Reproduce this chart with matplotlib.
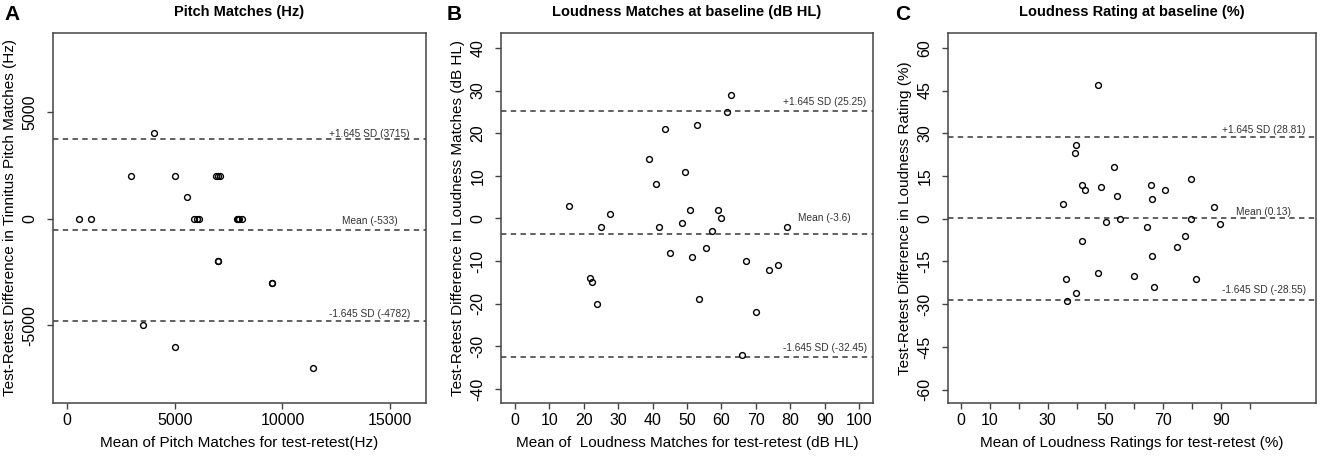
import matplotlib.pyplot as plt
import numpy as np

plt.rcParams['font.family'] = ['Liberation Sans', 'DejaVu Sans']
plt.rcParams['axes.unicode_minus'] = False

# ---- Panel A: pitch matches (Hz)
pitch_mean = [558, 1085, 2944, 4029, 3502, 5005, 5005, 5548, 5900, 6010, 6100,
              6911, 7020, 7097, 6989, 6989, 7870, 7950, 8000, 8100, 9500, 9500, 11405]
pitch_diff = [0, 0, 2000, 4000, -5000, 2000, -6000, 1000, 0, 0, 0,
              2000, 2000, 2000, -2000, -2000, 0, 0, 0, 0, -3000, -3000, -7000]
pitch_lines = [3715, -533, -4782]
pitch_texts = ['+1.645 SD (3715)', 'Mean (-533)', '-1.645 SD (-4782)']

# ---- Panel B: loudness matches (dB HL)
lm_mean = [15.6, 27.5, 25, 21.9, 22.5, 24, 38.9, 41, 43.6, 41.9, 45, 48.5, 49.5, 50.9,
           51.5, 53, 53.4, 55.5, 57.4, 59, 60, 61.5, 62.7, 66, 67.1, 69.9, 73.9, 76.5, 79]
lm_diff = [3, 1, -2, -14, -15, -20, 14, 8, 21, -2, -8, -1, 11, 2,
           -9, 22, -19, -7, -3, 2, 0, 25, 29, -32, -10, -22, -12, -11, -2]
lm_lines = [25.25, -3.6, -32.45]
lm_texts = ['+1.645 SD (25.25)', 'Mean (-3.6)', '-1.645 SD (-32.45)']

# ---- Panel C: loudness rating (%)
lr_mean = [35.4, 36.4, 36.5, 39.4, 39.9, 39.9, 41.7, 41.8, 42.8, 47.3, 47.5, 48.4, 50.3,
           52.8, 53.9, 54.9, 59.9, 64.3, 65.8, 66.2, 66.2, 66.8, 70.8, 74.9, 77.7, 79.7,
           79.7, 81.3, 87.7, 89.7]
lr_diff = [5, -21, -29, 23, 26, -26, 12, -8, 10, -19, 47, 11, -1,
           18, 8, 0, -20, -3, 12, 7, -13, -24, 10, -10, -6, 14,
           0, -21, 4, -2]
lr_lines = [28.81, 0.13, -28.55]
lr_texts = ['+1.645 SD (28.81)', 'Mean (0.13)', '-1.645 SD (-28.55)']

W, H = 1325, 457
fig = plt.figure(figsize=(W / 100, H / 100), dpi=100)

def px_axes(l, r, t, b):
    return fig.add_axes([l / W, 1 - b / H, (r - l) / W, (b - t) / H])

frame = '#444444'

def style(ax):
    for s in ax.spines.values():
        s.set_color(frame)
        s.set_linewidth(1.1)
    ax.tick_params(direction='out', length=4, width=1, color=frame, labelsize=11.5)
    ax.tick_params(axis='x', pad=3)
    ax.tick_params(axis='y', pad=7)
    for lab in ax.get_yticklabels():
        lab.set_rotation(90)
        lab.set_va('center')

def panel(ax, x, y, lines, texts, tx, offs, title, xlab, ylab):
    ax.plot(x, y, 'o', mfc='none', mec='black', ms=4.2, mew=1.0, zorder=3)
    for v, t, o in zip(lines, texts, offs):
        ax.axhline(v, color='#555555', lw=1.3, ls=(0, (3, 2.4)))
        ax.text(tx, v + o, t, fontsize=7.3, ha='center', va='center', color='#333333')
    ax.set_title(title, fontsize=10.5, fontweight='bold', pad=12)
    ax.set_xlabel(xlab, fontsize=11, labelpad=6)
    ax.set_ylabel(ylab, fontsize=11, labelpad=4)
    style(ax)

# A
axA = px_axes(53, 426, 33, 403)
axA.set_xlim(-665, 16673)
axA.set_ylim(-8640, 8700)
axA.set_xticks([0, 5000, 10000, 15000])
axA.set_yticks([-5000, 0, 5000])
panel(axA, pitch_mean, pitch_diff, pitch_lines, pitch_texts, 14050, [270, 440, 310],
      'Pitch Matches (Hz)', 'Mean of Pitch Matches for test-retest(Hz)',
      'Test-Retest Difference in Tinnitus Pitch Matches (Hz)')
fig.text(4 / W, 1 - 14 / H, 'A', fontsize=15, fontweight='bold', va='center')

# B
axB = px_axes(501, 873, 33, 403)
axB.set_xlim(-4, 104)
axB.set_ylim(-43.3, 43.5)
axB.set_xticks(np.arange(0, 101, 10))
axB.set_yticks(np.arange(-40, 41, 10))
panel(axB, lm_mean, lm_diff, lm_lines, lm_texts, 90, [2.0, 3.7, 2.0],
      'Loudness Matches at baseline (dB HL)',
      'Mean of  Loudness Matches for test-retest (dB HL)',
      'Test-Retest Difference in Loudness Matches (dB HL)')
fig.text(447 / W, 1 - 14 / H, 'B', fontsize=15, fontweight='bold', va='center')

# C
axC = px_axes(948, 1316, 33, 403)
axC.set_xlim(-4.6, 123)
axC.set_ylim(-64.7, 65.2)
axC.set_xticks(np.arange(0, 101, 10))
axC.set_xticklabels(['0', '10', '', '30', '', '50', '', '70', '', '90', ''])
axC.set_yticks(np.arange(-60, 61, 15))
panel(axC, lr_mean, lr_diff, lr_lines, lr_texts, 104.8, [2.4, 2.1, 3.6],
      'Loudness Rating at baseline (%)',
      'Mean of Loudness Ratings for test-retest (%)',
      'Test-Retest Difference in Loudness Rating (%)')
fig.text(895 / W, 1 - 14 / H, 'C', fontsize=15, fontweight='bold', va='center')

fig.savefig('out.png', dpi=100)
